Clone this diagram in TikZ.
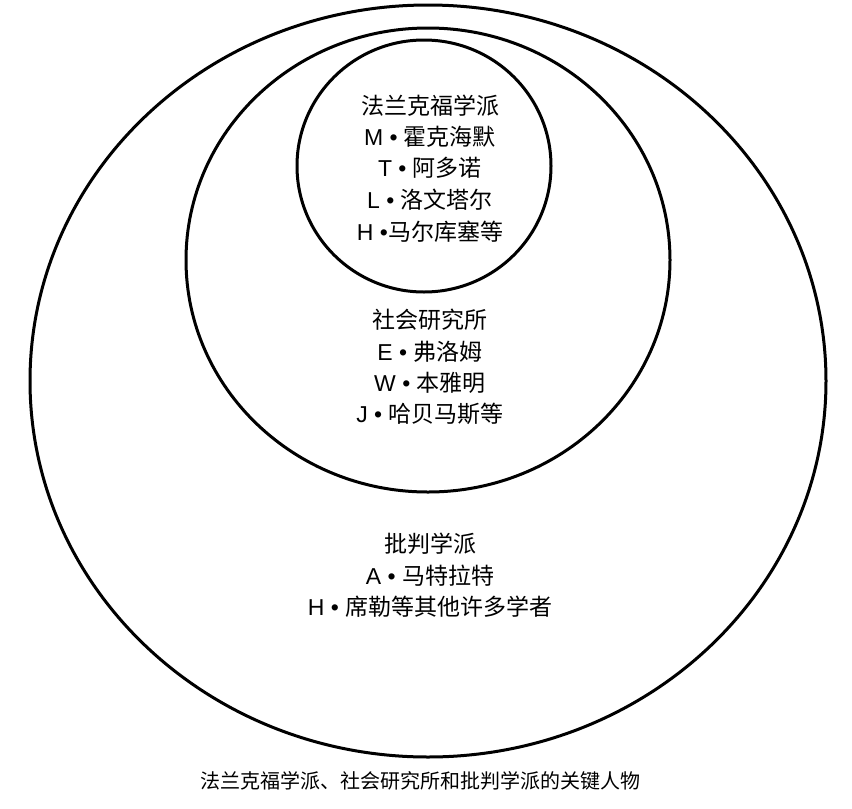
\documentclass[tikz,border=0pt]{standalone}
\usepackage{fontspec}
\setmainfont{Liberation Sans}
\newfontfamily\cjk{Noto Sans CJK SC}
\usetikzlibrary{calc}
\tikzset{ring/.style={line width=3pt}}
\tikzset{l/.style={font=\fontsize{23}{23}\selectfont}}
\tikzset{m/.style={font=\fontsize{20}{20}\selectfont\cjk}}
\newcommand{\zh}[1]{{\cjk #1}}
\begin{document}
\begin{tikzpicture}[x=1pt,y=-1pt]
  \useasboundingbox (0,0) rectangle (852,809);
  \draw[ring] (428,381) ellipse [x radius=398, y radius=376];
  \draw[ring] (428,260) ellipse [x radius=242, y radius=232];
  \draw[ring] (424,166) ellipse [x radius=127, y radius=126];
  % inner circle
  \node[l] (f1) at (430,106) {\zh{法兰克福学派}};
  \node[l] (f2) at (430,137) {M • \zh{霍克海默}};
  \node[l] (f3) at (430,168) {T • \zh{阿多诺}};
  \node[l] (f4) at (430,200) {L • \zh{洛文塔尔}};
  \node[l] (f5) at (430,232) {H •\zh{马尔库塞等}};
  % middle circle
  \node[l] (s1) at (430,320) {\zh{社会研究所}};
  \node[l] (s2) at (430,352) {E • \zh{弗洛姆}};
  \node[l] (s3) at (430,383) {W • \zh{本雅明}};
  \node[l] (s4) at (430,414) {J • \zh{哈贝马斯等}};
  % outer circle
  \node[l] (p1) at (430,544) {\zh{批判学派}};
  \node[l] (p2) at (430,576) {A • \zh{马特拉特}};
  \node[l] (p3) at (430,607) {H • \zh{席勒等其他许多学者}};
  \node[m] (cap) at (420,781) {法兰克福学派、社会研究所和批判学派的关键人物};
\end{tikzpicture}
\end{document}
